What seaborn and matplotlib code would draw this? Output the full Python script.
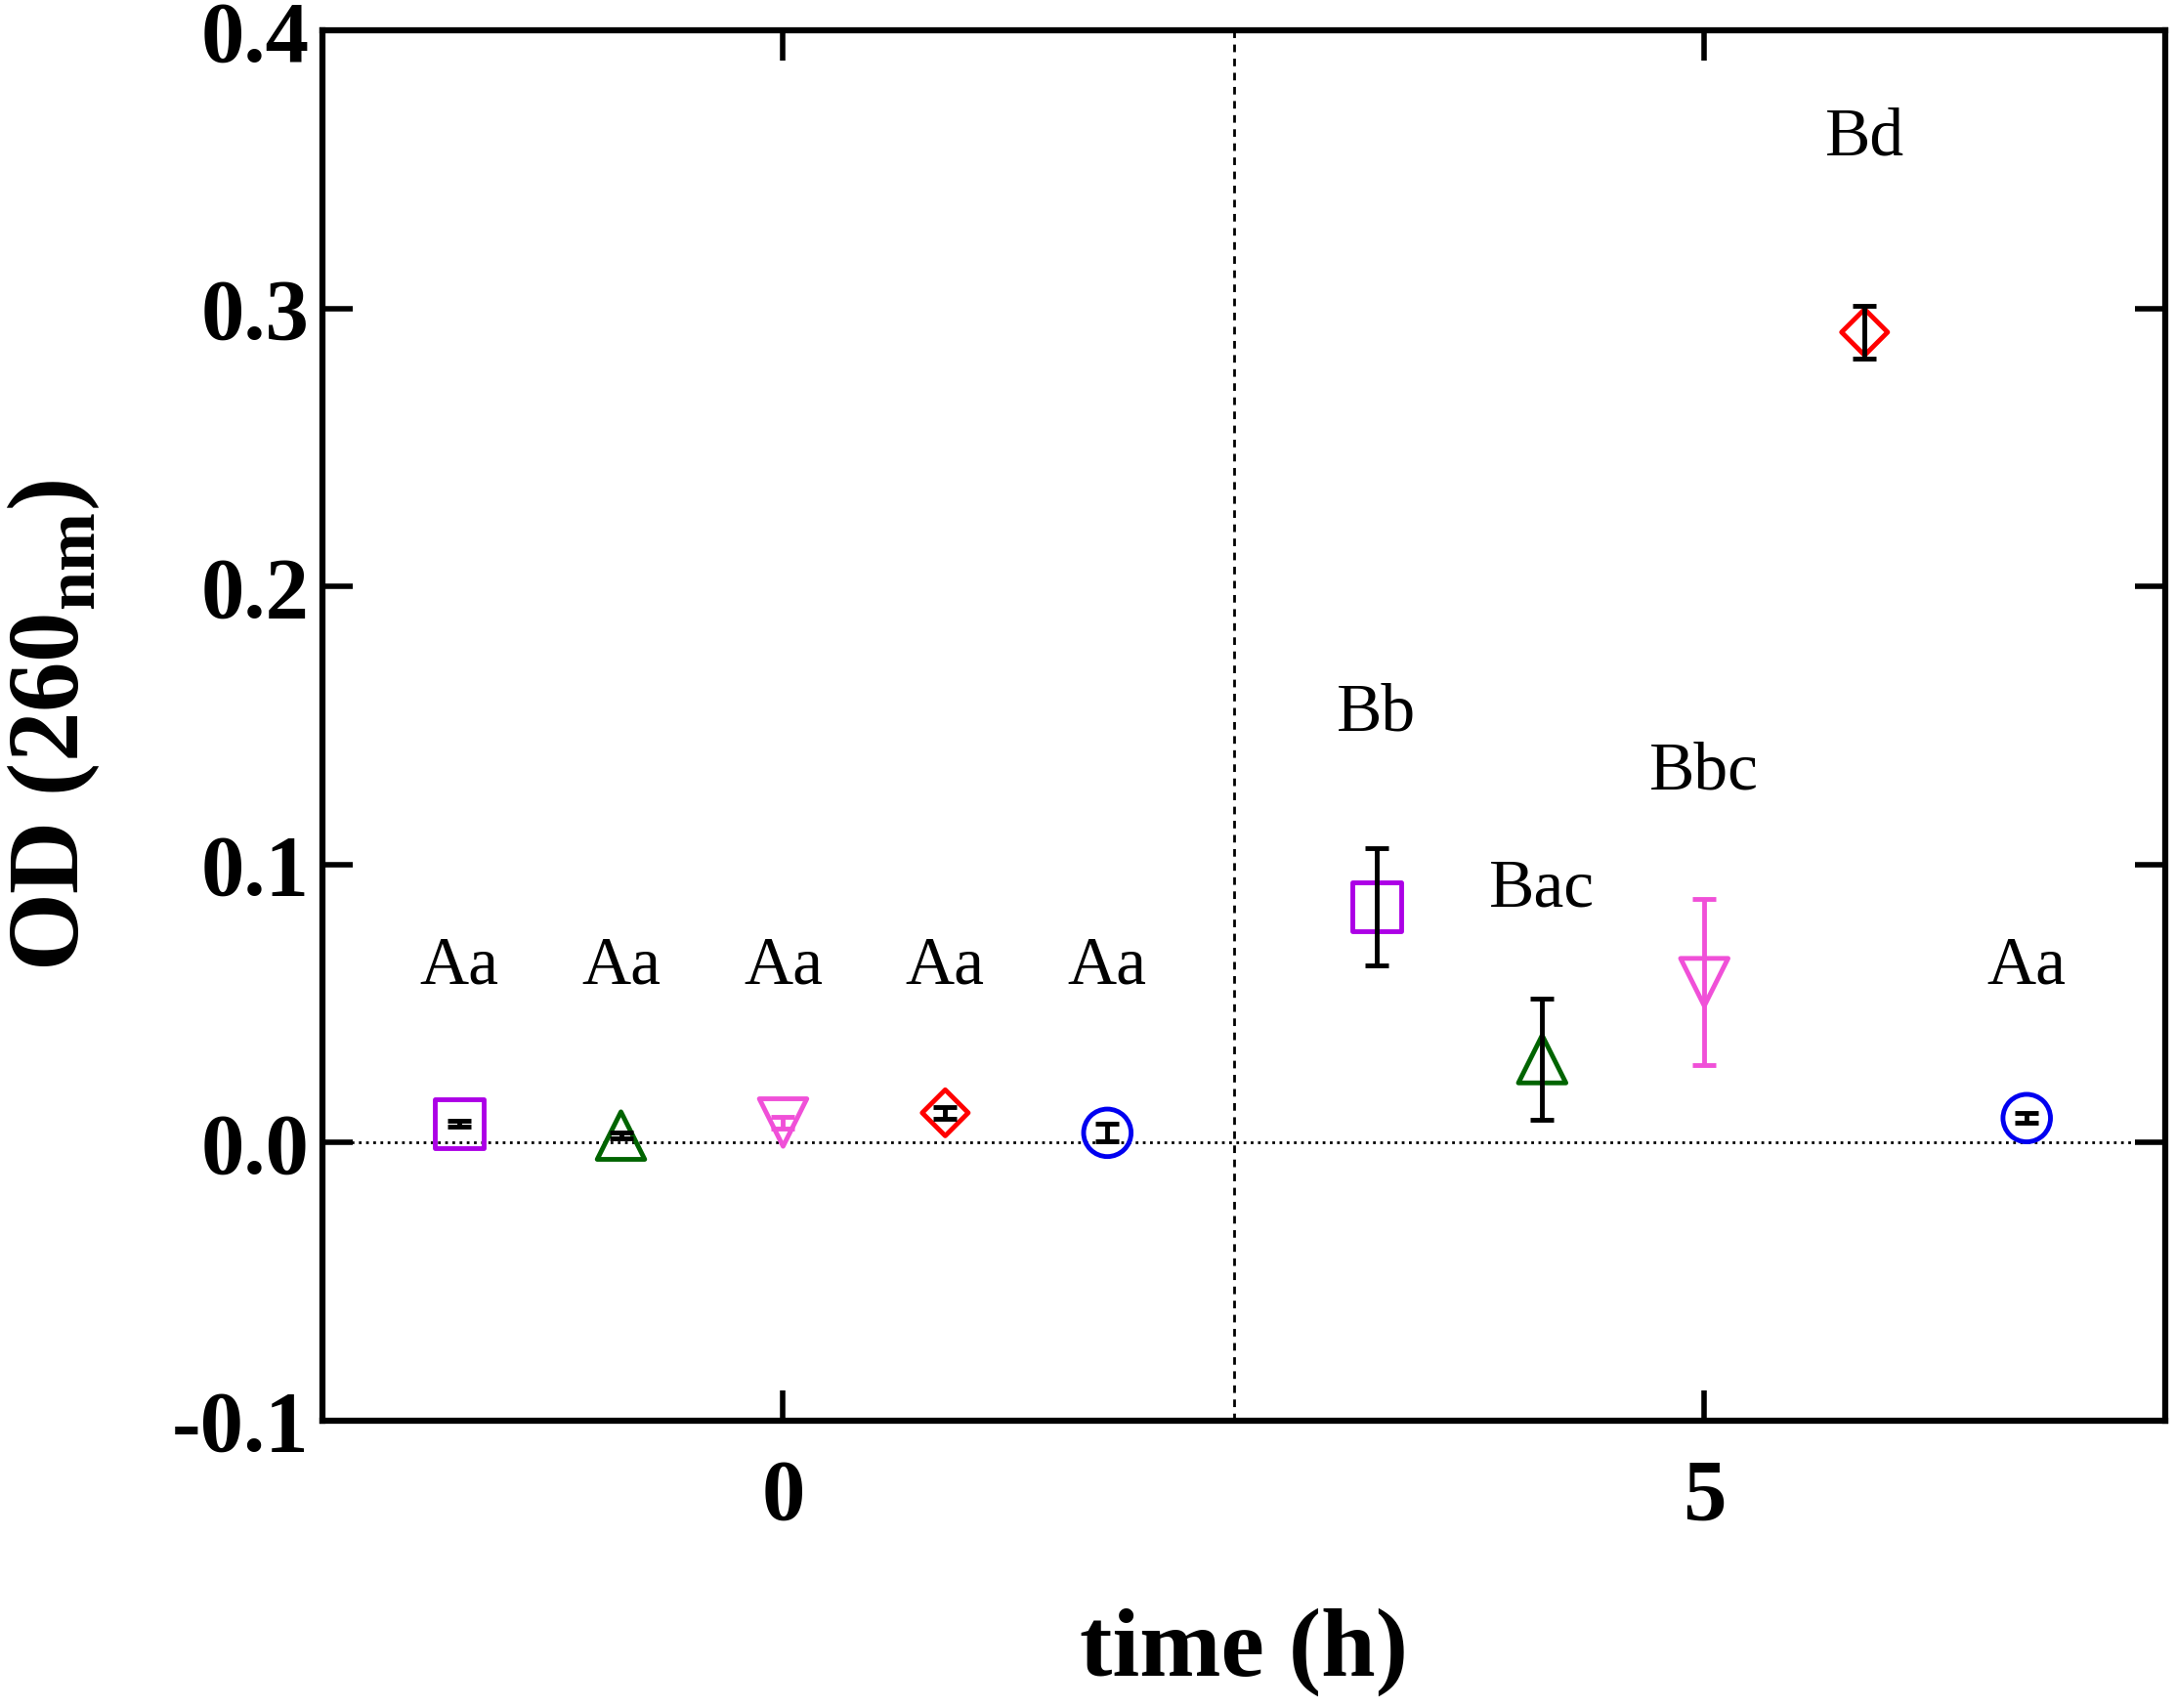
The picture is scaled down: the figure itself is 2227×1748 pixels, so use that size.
# OD 260nm at 0 h and 5 h for five groups, with letters for significance

import numpy as np
import pandas as pd
import matplotlib
matplotlib.use("Agg")
import matplotlib.pyplot as plt
import seaborn as sns
from matplotlib.ticker import FormatStrFormatter

# data
groups = ["G1", "G2", "G3", "G4", "G5"]
markers = ["s", "^", "v", "D", "o"]
colors = ["#AC00E6", "#006400", "#F050D8", "#FF0000", "#0000F0"]
bar_colors = ["black", "black", "#F050D8", "black", "black"]
marker_sizes = [36, 35, 35, 24, 35]

x_t0 = [-1.76, -0.88, 0.0, 0.88, 1.76]
x_t5 = [3.22, 4.12, 5.0, 5.87, 6.75]
od_t0 = [0.0069, 0.0025, 0.0072, 0.0107, 0.0035]
sd_t0 = [0.0010, 0.0010, 0.0020, 0.0021, 0.0032]
od_t5 = [0.0848, 0.0300, 0.0577, 0.2915, 0.0088]
sd_t5 = [0.0210, 0.0218, 0.0300, 0.0095, 0.0018]

letters_t0 = ["Aa", "Aa", "Aa", "Aa", "Aa"]
letters_t5 = ["Bb", "Bac", "Bbc", "Bd", "Aa"]
letter_y_t0 = [0.063, 0.063, 0.063, 0.063, 0.063]
letter_y_t5 = [0.154, 0.091, 0.133, 0.361, 0.063]

x_ticks = [0, 5]
y_ticks = [-0.1, 0.0, 0.1, 0.2, 0.3, 0.4]
split_time = 2.45

df = pd.DataFrame({
    "x": x_t0 + x_t5,
    "od": od_t0 + od_t5,
    "sd": sd_t0 + sd_t5,
    "group": groups * 2,
    "letter": letters_t0 + letters_t5,
    "letter_y": letter_y_t0 + letter_y_t5,
})

sns.set_theme(style="ticks")
plt.rcParams["font.family"] = ["Liberation Serif", "DejaVu Serif"]
plt.rcParams["mathtext.fontset"] = "custom"
plt.rcParams["mathtext.bf"] = "Liberation Serif:bold"
plt.rcParams["mathtext.rm"] = "Liberation Serif:bold"
plt.rcParams["axes.unicode_minus"] = False

fig = plt.figure(figsize=(22.27, 17.48), dpi=100)
ax = fig.add_axes([0.1482, 0.1683, 0.8467, 0.8138])

ax.axhline(0, color="black", ls=":", lw=2, zorder=1)
ax.axvline(split_time, color="black", ls=(0, (2.8, 2.4)), lw=2, zorder=1)

sns.scatterplot(data=df, x="x", y="od", hue="group", style="group", size="group",
                palette=dict(zip(groups, colors)),
                markers=dict(zip(groups, markers)),
                sizes=dict(zip(groups, [m ** 2 for m in marker_sizes])),
                legend=False, ax=ax, zorder=2.5)

# hollow markers
coll = ax.collections[-1]
fc = coll.get_facecolors()
coll.set_edgecolors(fc)
coll.set_facecolors("none")
coll.set_linewidths(3.5)

bar_map = dict(zip(groups, bar_colors))
for _, row in df.iterrows():
    ax.errorbar(row["x"], row["od"], yerr=row["sd"], fmt="none",
                ecolor=bar_map[row["group"]], elinewidth=3.5,
                capsize=8.5, capthick=3.5, zorder=3)
    ax.text(row["x"], row["letter_y"], row["letter"], ha="center", va="center",
            fontsize=50, fontweight="normal", color="black")

ax.set_xlim(-2.5, 7.5)
ax.set_ylim(-0.1, 0.4)
ax.set_xticks(x_ticks)
ax.set_yticks(y_ticks)
ax.yaxis.set_major_formatter(FormatStrFormatter("%.1f"))

for side in ["left", "right", "top", "bottom"]:
    ax.spines[side].set_visible(True)
    ax.spines[side].set_linewidth(4.5)
    ax.spines[side].set_color("black")

ax.tick_params(axis="x", direction="in", length=22, width=4, top=True,
               bottom=True, pad=28, labelsize=64, colors="black")
ax.tick_params(axis="y", direction="in", length=22, width=4, left=True,
               right=True, pad=10, labelsize=64, colors="black")
for lbl in ax.get_xticklabels() + ax.get_yticklabels():
    lbl.set_fontweight("bold")

ax.set_xlabel("time (h)", fontsize=72, fontweight="bold", color="black")
ax.set_ylabel(r"OD (260$_{\mathbf{nm}}$)", fontsize=74, fontweight="bold",
              color="black", va="center")
ax.xaxis.set_label_coords(0.5, -0.135)
ax.yaxis.set_label_coords(-0.146, 0.5)

fig.savefig("out.png", dpi=100, facecolor="white")
